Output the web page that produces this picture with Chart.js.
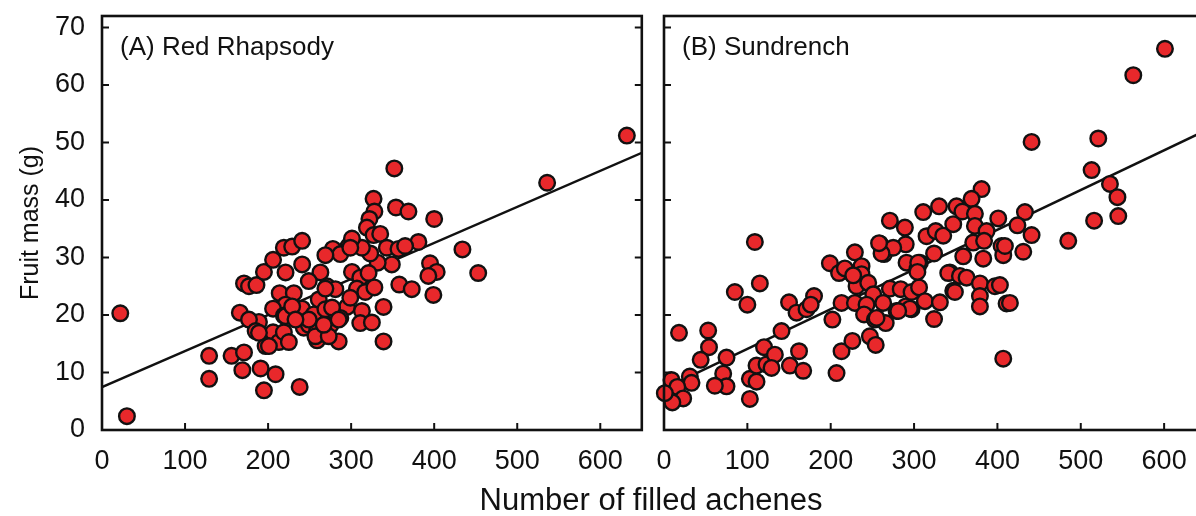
<!DOCTYPE html>
<html>
<head>
<meta charset="utf-8">
<script src="https://cdn.jsdelivr.net/npm/chart.js@4.4.1/dist/chart.umd.min.js"></script>
<style>
  html, body { margin: 0; padding: 0; background: #fff; overflow: hidden; }
  #wrap { position: relative; width: 1196px; height: 516px; overflow: hidden; }
  #panelA { position: absolute; left: 0; top: 0; }
  #panelB { position: absolute; left: 646px; top: 0; }
  #xtitle {
    position: absolute; left: 401px; width: 500px; top: 482px;
    text-align: center; color: #111;
    font: 31px "Liberation Sans", Arial, sans-serif;
  }
</style>
</head>
<body>
<div id="wrap">
  <canvas id="panelA" width="652" height="516"></canvas>
  <canvas id="panelB" width="570" height="516"></canvas>
  <div id="xtitle">Number of filled achenes</div>
</div>
<script>
// (A) Red Rhapsody: filled achenes vs fruit mass
const achenesA = [22, 30, 129, 156, 171, 129, 169, 191, 209, 195, 238, 166, 189, 177, 185, 197, 206, 213, 219, 225,
  171, 177, 186, 195, 206, 219, 229, 241, 221, 241, 214, 231, 221, 206, 219, 241, 243, 352, 327, 328,
  322, 319, 327, 335, 354, 369, 400, 434, 381, 343, 357, 365, 349, 332, 323, 313, 297, 301, 278, 287,
  269, 263, 249, 271, 281, 301, 311, 321, 307, 317, 328, 395, 403, 393, 358, 373, 399, 453, 261, 255,
  269, 295, 299, 313, 287, 339, 249, 259, 275, 311, 325, 259, 285, 339, 536, 632, 299, 269, 221, 229,
  277, 189, 201, 257, 273, 285, 267, 249, 233];
const massA = [20.3, 2.4, 12.9, 12.9, 13.5, 8.9, 10.4, 10.7, 9.7, 6.9, 7.5, 20.4, 18.8, 19.2, 17.2, 14.6, 17, 15.3, 17, 15.3,
  25.5, 25, 25.2, 27.5, 29.6, 31.7, 31.9, 32.9, 27.4, 28.8, 23.8, 23.8, 21.8, 21.1, 19.9, 21.1, 17.8, 45.5, 40.2, 38,
  36.7, 35.2, 33.9, 34.1, 38.7, 38, 36.7, 31.4, 32.7, 31.7, 31.5, 32, 28.8, 29.1, 30.7, 31.7, 32, 33.3, 31.5, 30.6,
  30.4, 27.4, 25.9, 25, 24.5, 27.5, 26.5, 27.3, 24.6, 24, 24.8, 29, 27.5, 26.8, 25.3, 24.5, 23.5, 27.3, 22.7, 20.1,
  21, 21.4, 23, 20.7, 19.5, 21.4, 18.3, 17.2, 18.2, 18.6, 18.7, 15.6, 15.4, 15.4, 43, 51.2, 31.7, 24.6, 19.8, 21.5,
  21.3, 16.9, 14.6, 16.3, 16.3, 19.2, 18.3, 19.2, 19.2];
const fitXA = [0, 650];
const fitYA = [7.45, 48.2];

// (B) Sundrench
const achenesB = [109, 115, 85, 100, 18, 53, 54, 44, 75, 71, 75, 61, 31, 33, 9, 16, 23, 10, 1, 103,
  111, 103, 111, 120, 123, 133, 129, 141, 151, 167, 162, 150, 159, 171, 180, 176, 202, 207, 213, 226,
  199, 210, 213, 229, 225, 237, 237, 231, 245, 251, 229, 243, 240, 253, 247, 254, 266, 263, 271, 279,
  284, 290, 297, 297, 306, 313, 324, 331, 259, 264, 271, 289, 290, 291, 311, 330, 315, 326, 335, 324,
  304, 307, 343, 347, 351, 347, 381, 369, 358, 373, 401, 373, 387, 371, 384, 405, 407, 383, 359, 275,
  261, 258, 305, 304, 341, 355, 363, 349, 379, 397, 379, 379, 411, 407, 295, 281, 255, 217, 227, 513,
  535, 544, 545, 516, 485, 433, 424, 441, 431, 409, 415, 403, 601, 563, 441, 521];
const massB = [32.7, 25.5, 24, 21.8, 16.9, 17.3, 14.4, 12.2, 12.6, 9.8, 7.6, 7.7, 9.3, 8.2, 8.7, 7.5, 5.5, 4.8, 6.4, 8.9,
  8.4, 5.4, 11.2, 14.4, 11.4, 13.1, 10.8, 17.2, 11.2, 10.3, 13.7, 22.2, 20.4, 21, 23.3, 21.8, 19.2, 9.9, 13.7, 15.5,
  29, 27.3, 22.1, 30.9, 27.3, 28.5, 27.1, 25, 25.6, 23.6, 22.1, 21.8, 20.1, 19.2, 16.3, 14.8, 18.6, 22.1, 24.6, 20.7,
  24.5, 21.5, 21, 24, 24.8, 22.4, 19.3, 22.2, 32.4, 30.6, 36.4, 35.2, 32.3, 29.1, 37.9, 38.9, 33.7, 34.6, 33.8, 30.7,
  28, 29.1, 27.4, 35.8, 38.9, 24.2, 41.9, 40.2, 38, 37.6, 36.8, 35.5, 34.6, 32.6, 32.9, 32, 30.4, 29.8, 30.2, 31.7,
  30.7, 32.5, 29.1, 27.5, 27.3, 26.8, 26.5, 24, 25.5, 25, 23.3, 21.5, 22, 12.4, 21.1, 20.7, 19.5, 28.1, 26.9, 45.2,
  42.8, 40.5, 37.2, 36.4, 32.9, 37.9, 35.6, 33.9, 31, 32, 22.1, 25.2, 66.3, 61.7, 50.1, 50.7];
const fitXB = [0, 650];
const fitYB = [7.2, 52.1];

const xTicks = [0, 100, 200, 300, 400, 500, 600];
const yTicks = [0, 10, 20, 30, 40, 50, 60, 70];

const FONT = '"Liberation Sans", Arial, sans-serif';
const INK = '#111';

function pairs(xs, ys) {
  return xs.map((x, i) => ({ x: x, y: ys[i] }));
}

// frame round the plot area, inward tick marks, panel label
const framePlugin = {
  id: 'frame',
  afterDraw(chart, args, opts) {
    const { ctx, chartArea: a, scales } = chart;
    ctx.save();
    ctx.strokeStyle = INK;
    ctx.lineWidth = 2;
    scales.x.ticks.forEach(t => {
      const px = scales.x.getPixelForValue(t.value);
      ctx.beginPath(); ctx.moveTo(px, a.bottom); ctx.lineTo(px, a.bottom - 7); ctx.stroke();
    });
    scales.y.ticks.forEach(t => {
      const py = scales.y.getPixelForValue(t.value);
      ctx.beginPath(); ctx.moveTo(a.left, py); ctx.lineTo(a.left + 7, py); ctx.stroke();
      ctx.beginPath(); ctx.moveTo(a.right, py); ctx.lineTo(a.right - 7, py); ctx.stroke();
    });
    ctx.lineWidth = 2.6;
    ctx.strokeRect(a.left, a.top, a.right - a.left, a.bottom - a.top);

    ctx.fillStyle = INK;
    ctx.font = '26px ' + FONT;
    ctx.textBaseline = 'middle';
    ctx.fillText(opts.text, a.left + 18, 48);
    ctx.restore();
  }
};

function makePanel(id, xs, ys, fitX, fitY, cfg) {
  return new Chart(document.getElementById(id), {
    type: 'scatter',
    data: {
      datasets: [{
        data: pairs(xs, ys),
        backgroundColor: '#e8282b',
        borderColor: INK,
        borderWidth: 2.4,
        pointRadius: 7.8,
        clip: false,
        order: 0
      }, {
        data: pairs(fitX, fitY),
        showLine: true,
        borderColor: INK,
        borderWidth: 2.4,
        pointRadius: 0,
        order: 1
      }]
    },
    options: {
      responsive: false,
      animation: false,
      devicePixelRatio: 1,
      layout: { padding: { left: 0, right: cfg.padRight, top: 16, bottom: 0 } },
      plugins: {
        legend: { display: false },
        tooltip: { enabled: false },
        frame: { text: cfg.label }
      },
      scales: {
        x: {
          type: 'linear', min: 0, max: 650,
          grid: { display: false, drawTicks: false },
          border: { display: false },
          ticks: { padding: 15, color: INK, font: { family: FONT, size: 27 } },
          afterBuildTicks: s => { s.ticks = xTicks.map(v => ({ value: v })); },
          afterFit: s => { s.height = 86; s.paddingLeft = 0; s.paddingRight = 0; }
        },
        y: {
          type: 'linear', min: 0, max: 72,
          grid: { display: false, drawTicks: false },
          border: { display: false },
          ticks: { display: cfg.showY, padding: 17, color: INK, font: { family: FONT, size: 27 } },
          title: {
            display: cfg.showY, text: 'Fruit mass (g)', color: INK,
            font: { family: FONT, size: 25 }, padding: { top: 16, bottom: 0 }
          },
          afterBuildTicks: s => { s.ticks = yTicks.map(v => ({ value: v })); },
          afterFit: s => { s.width = cfg.yWidth; s.paddingTop = 0; s.paddingBottom = 0; }
        }
      }
    },
    plugins: [framePlugin]
  });
}

makePanel('panelA', achenesA, massA, fitXA, fitYA,
  { label: '(A) Red Rhapsody', showY: true, yWidth: 102, padRight: 9 });
makePanel('panelB', achenesB, massB, fitXB, fitYB,
  { label: '(B) Sundrench', showY: false, yWidth: 18, padRight: 10 });
</script>
</body>
</html>
